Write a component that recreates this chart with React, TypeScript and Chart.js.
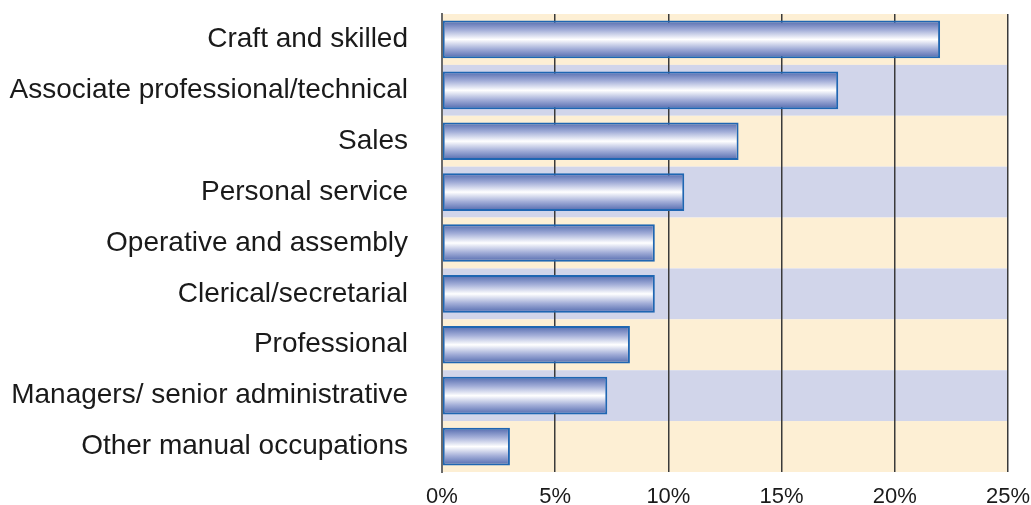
import React, { useEffect, useRef } from "react";
import { Chart, registerables } from "chart.js";

Chart.register(...registerables);

const categories = [
  "Craft and skilled",
  "Associate professional/technical",
  "Sales",
  "Personal service",
  "Operative and assembly",
  "Clerical/secretarial",
  "Professional",
  "Managers/ senior administrative",
  "Other manual occupations",
];
const values = [22.0, 17.5, 13.1, 10.7, 9.4, 9.4, 8.3, 7.3, 3.0];
const xTicks = [0, 5, 10, 15, 20, 25];

const BAR_PCT = 0.74;

const bandPlugin = {
  id: "bands",
  beforeDraw(chart: any) {
    const { ctx, chartArea, scales } = chart;
    const y = scales.y;
    const n = categories.length;
    const rowH = (chartArea.bottom - chartArea.top) / n;
    ctx.save();
    for (let i = 0; i < n; i++) {
      const c = y.getPixelForValue(i);
      ctx.fillStyle = i % 2 === 0 ? "#fdefd4" : "#d1d5ea";
      ctx.fillRect(chartArea.left, c - rowH / 2, chartArea.right - chartArea.left, rowH);
    }
    ctx.restore();
  },
};

function barGradient(context: any) {
  const chart = context.chart;
  const y = chart.scales && chart.scales.y;
  const area = chart.chartArea;
  if (!y || !area || context.dataIndex === undefined) return "#8a9ad0";
  const n = categories.length;
  const rowH = (area.bottom - area.top) / n;
  const c = y.getPixelForValue(context.dataIndex);
  const h = rowH * BAR_PCT;
  const g = chart.ctx.createLinearGradient(0, c - h / 2, 0, c + h / 2);
  g.addColorStop(0, "#5068ad");
  g.addColorStop(0.25, "#a3aed8");
  g.addColorStop(0.5, "#ffffff");
  g.addColorStop(0.75, "#a3aed8");
  g.addColorStop(1, "#5068ad");
  return g;
}

export default function App() {
  const ref = useRef<HTMLCanvasElement>(null);
  useEffect(() => {
    document.body.style.margin = "0";
    const chart = new Chart(ref.current!, {
      type: "bar",
      data: {
        labels: categories,
        datasets: [
          {
            data: values,
            backgroundColor: barGradient,
            borderColor: "#1f66b2",
            borderWidth: 2,
            borderSkipped: false,
            barPercentage: BAR_PCT,
            categoryPercentage: 1,
          },
        ],
      },
      options: {
        indexAxis: "y",
        animation: false,
        responsive: false,
        maintainAspectRatio: false,
        layout: { padding: { top: 14, right: 23, left: 0, bottom: 0 } },
        plugins: { legend: { display: false }, tooltip: { enabled: false } },
        scales: {
          x: {
            type: "linear",
            min: 0,
            max: 25,
            afterBuildTicks: (scale: any) => {
              scale.ticks = xTicks.map((v) => ({ value: v }));
            },
            afterFit: (scale: any) => {
              scale.height = 33;
              scale.paddingLeft = 0;
              scale.paddingRight = 0;
              scale.paddingTop = 0;
              scale.paddingBottom = 0;
            },
            grid: {
              color: (ctx: any) => (ctx.index === 0 ? "rgba(0,0,0,0)" : "#3a3a3a"),
              lineWidth: 1.5,
              drawTicks: false,
            },
            border: { display: false },
            ticks: {
              padding: 12,
              color: "#1a1a1a",
              font: { family: "'Liberation Sans', Arial, sans-serif", size: 22 },
              callback: (v: any) => v + "%",
            },
          },
          y: {
            grid: { display: false, drawTicks: false },
            border: { display: true, color: "#6b6b6b", width: 2 },
            afterFit: (scale: any) => {
              scale.width = 442;
              scale.paddingTop = 0;
              scale.paddingBottom = 0;
              scale.paddingLeft = 0;
              scale.paddingRight = 0;
            },
            ticks: {
              padding: 34,
              color: "#1a1a1a",
              font: { family: "'Liberation Sans', Arial, sans-serif", size: 28 },
            },
          },
        },
      },
      plugins: [bandPlugin],
    } as any);
    return () => chart.destroy();
  }, []);
  return (
    <div style={{ position: "absolute", left: 0, top: 0, width: 1031, height: 505 }}>
      <canvas ref={ref} width={1031} height={505} style={{ width: 1031, height: 505 }} />
    </div>
  );
}
